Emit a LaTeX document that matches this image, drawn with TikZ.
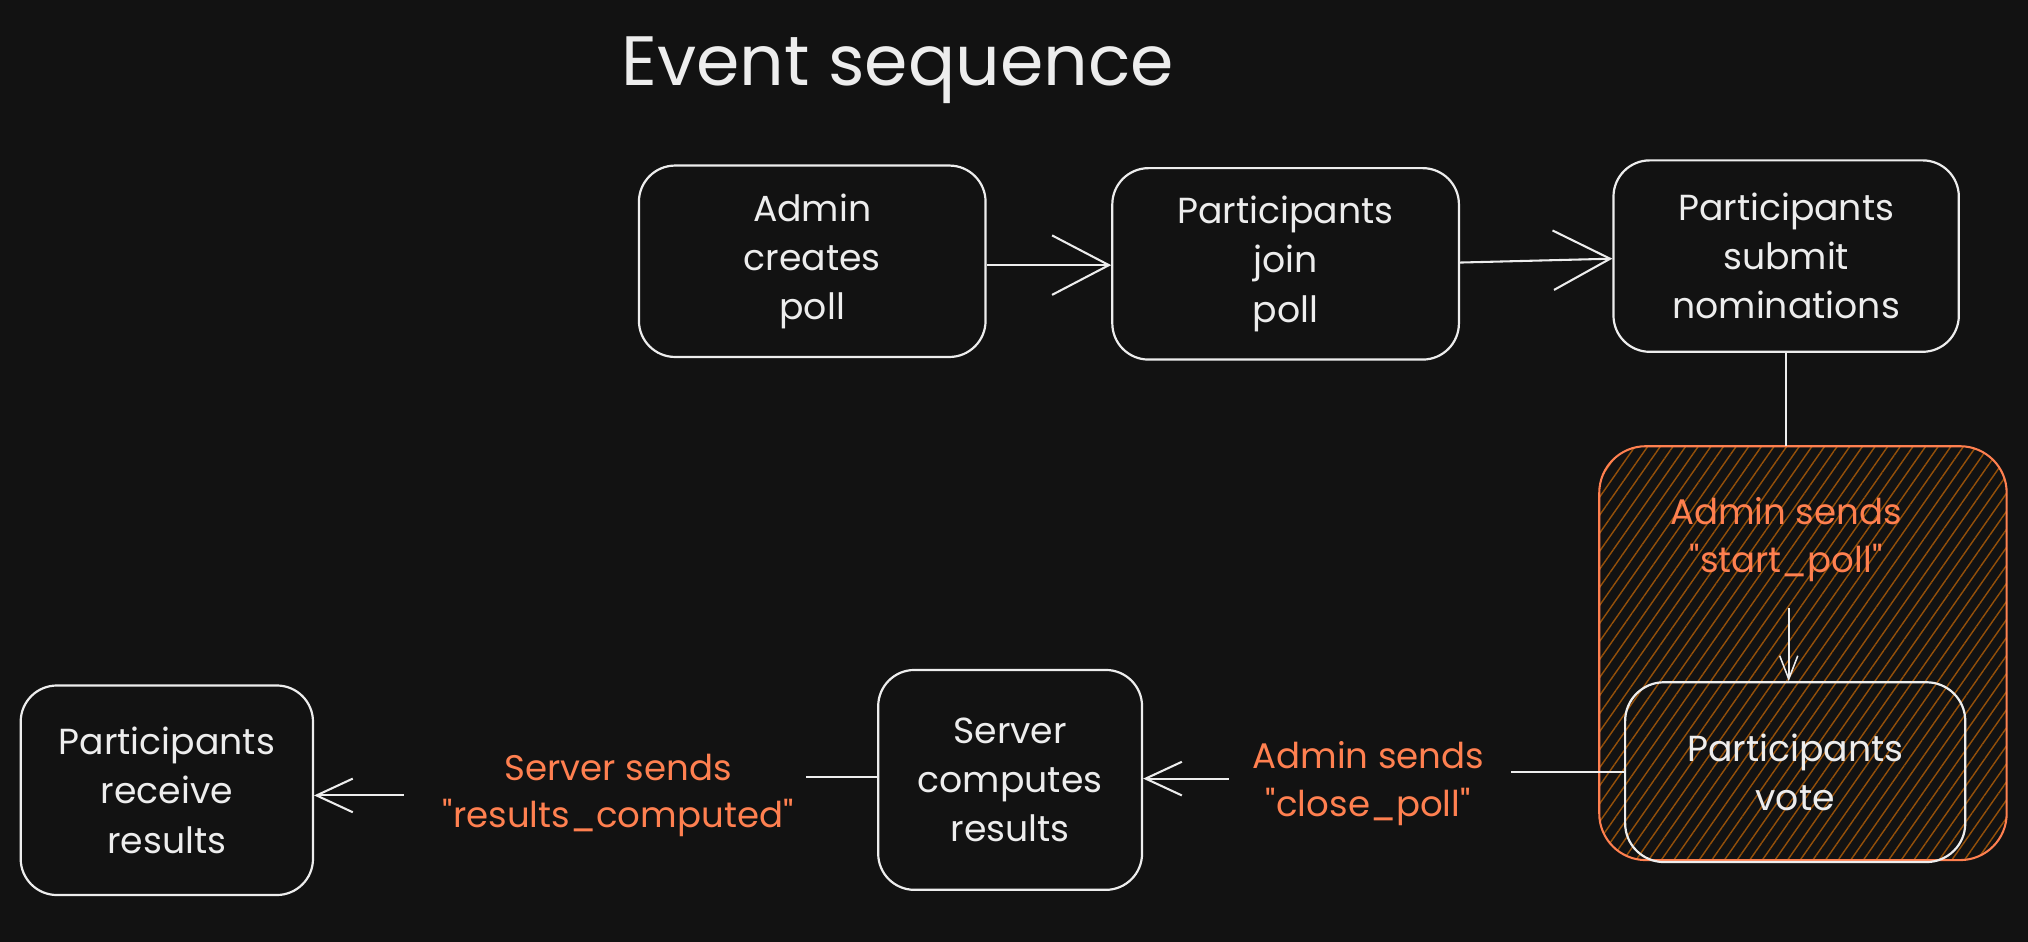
\documentclass[tikz,border=0pt]{standalone}
\usepackage{fontspec}
\setmainfont{Poppins}
\newfontfamily\qf{Poppins}
\usetikzlibrary{arrows.meta,patterns.meta}
\definecolor{bg}{HTML}{121212}
\definecolor{ink}{HTML}{EDEDED}
\definecolor{accent}{HTML}{FF8050}
\definecolor{hatch}{HTML}{94500A}
\newcommand{\dq}{{\qf\char34}}
\begin{document}
\begin{tikzpicture}[x=1pt,y=-1pt,
  box/.style={draw=ink, line width=1.7pt, rounded corners=28pt, text=ink, align=center,
    font=\fontsize{28}{38}\selectfont, inner sep=0pt,
    execute at begin node={\rule{0pt}{46pt}}},
  lbl/.style={text=accent, align=center, font=\fontsize{27.5}{37}\selectfont, inner sep=0pt},
  conn/.style={draw=ink, line width=1.6pt},
  bigarr/.style={conn, -{Straight Barb[length=44pt,width=46pt]}},
  smallarr/.style={conn, -{Straight Barb[length=28pt,width=26pt]}},
  tinyarr/.style={conn, line width=1.2pt, -{Straight Barb[length=18pt,width=14pt]}}]
\fill[bg] (0,0) rectangle (1568,728);
\useasboundingbox (0,0) rectangle (1568,728);

\node[text=ink, font=\fontsize{54}{60}\selectfont, inner sep=0pt] (title) at (694,54) {Event sequence};

\node[box, minimum width=268pt, minimum height=148pt] (b1) at (628,202) {Admin\\creates\\poll};
\node[box, minimum width=268pt, minimum height=148pt] (b2) at (994,204) {Participants\\join\\poll};
\node[box, minimum width=267pt, minimum height=148pt] (b3) at (1381,198) {Participants\\submit\\nominations};

\node[draw=accent, line width=1.6pt, rounded corners=36pt, minimum width=315pt, minimum height=320pt,
  pattern={Lines[angle=55,distance=8pt,line width=1.1pt]}, pattern color=hatch] (ob) at (1394,505) {};
\node[lbl] (startlbl) at (1381,417) {Admin sends\\\dq start\_poll\dq};
\node[box, minimum width=263pt, minimum height=139pt, rounded corners=30pt] (vote) at (1388,597) {Participants\\vote};

\node[box, minimum width=204pt, minimum height=170pt] (srv) at (781,603) {Server\\computes\\results};
\node[box, minimum width=226pt, minimum height=162pt] (recv) at (129,611) {Participants\\receive\\results};

\node[lbl] (closelbl) at (1058,606) {Admin sends\\\dq close\_poll\dq};
\node[lbl] (reslbl) at (478,615) {Server sends\\\dq results\_computed\dq};

\coordinate (c1) at (1168,597);
\coordinate (c2) at (950,602);
\coordinate (c3) at (623,601);
\coordinate (c4) at (312,615);

\draw[bigarr] (b1.east |- 0,205) -- (b2.west |- 0,205);
\draw[bigarr] (b2.east |- 0,203) -- (b3.west |- 0,200);
\draw[conn] (b3.south) -- (b3.south |- ob.north);
\draw[tinyarr] (1383,470) -- (vote.north -| 1383,0);
\draw[conn] (vote.west) -- (c1);
\draw[smallarr] (c2) -- (srv.east |- c2);
\draw[conn] (srv.west |- c3) -- (c3);
\draw[smallarr] (c4) -- (recv.east |- c4);
\end{tikzpicture}
\end{document}
